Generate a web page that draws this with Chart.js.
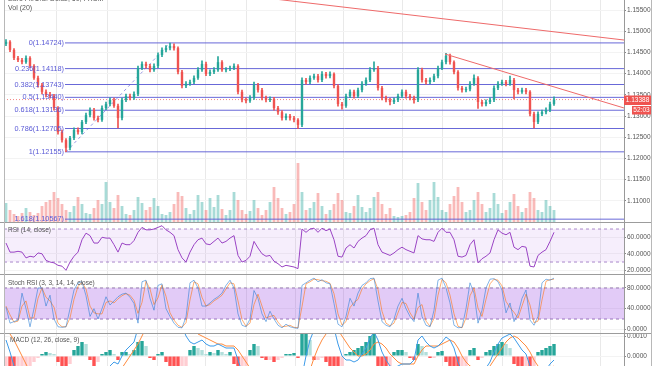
<!DOCTYPE html>
<html><head><meta charset="utf-8">
<script src="https://cdn.jsdelivr.net/npm/chart.js@4.4.1/dist/chart.umd.min.js"></script>
<style>
html,body{margin:0;padding:0;background:#fff;width:654px;height:366px;overflow:hidden;position:relative}
.pane{position:absolute;left:0;width:654px}
.pane canvas{display:block}
.hl{position:absolute;left:0;width:652px;height:1px;background:#9c9c9c}
.vl{position:absolute;top:0;width:1px;height:366px}
.lbl{position:absolute;left:8px;font-family:"Liberation Sans",Arial,sans-serif;font-size:6.5px;line-height:8px;color:#555;white-space:nowrap}
</style></head><body>
<div class="pane" style="top:0;height:222px"><canvas id="cMain" width="654" height="222"></canvas></div>
<div class="pane" style="top:222px;height:52px"><canvas id="cRsi" width="654" height="52"></canvas></div>
<div class="pane" style="top:274px;height:59px"><canvas id="cStoch" width="654" height="59"></canvas></div>
<div class="pane" style="top:333px;height:67px"><canvas id="cMacd" width="654" height="67"></canvas></div>
<div class="hl" style="top:222px"></div>
<div class="hl" style="top:274px"></div>
<div class="hl" style="top:333px"></div>
<div class="vl" style="left:4px;background:#b8b8b8"></div>
<div class="vl" style="left:651px;background:#b8b8b8"></div>
<div class="lbl" style="top:-5px;font-size:7px">Euro Fx/U.S. Dollar, 60, FXCM</div>
<div class="lbl" style="top:4px;font-size:7px">Vol (20)</div>
<div class="lbl" style="top:226px">RSI (14, close)</div>
<div class="lbl" style="top:279px">Stoch RSI (3, 3, 14, 14, close)</div>
<div class="lbl" style="top:336px;left:10px">MACD (12, 26, close, 9)</div>
<script>
// ---------- DATA ----------
const opens=[1.1470,1.1475,1.1456,1.1437,1.1432,1.1427,1.1437,1.1418,1.1390,1.1373,
1.1357,1.1350,1.1347,1.1319,1.1262,1.1243,1.1225,1.1248,1.1267,1.1262,
1.1286,1.1302,1.1314,1.1295,1.1291,1.1319,1.1328,1.1338,1.1324,1.1295,
1.1338,1.1347,1.1343,1.1352,1.1413,1.1423,1.1418,1.1409,1.1418,1.1444,
1.1456,1.1460,1.1465,1.1460,1.1404,1.1371,1.1376,1.1380,1.1390,1.1409,
1.1423,1.1399,1.1404,1.1409,1.1427,1.1409,1.1411,1.1413,1.1418,1.1357,
1.1338,1.1336,1.1343,1.1373,1.1361,1.1343,1.1338,1.1340,1.1319,1.1309,
1.1295,1.1300,1.1295,1.1291,1.1279,1.1385,1.1380,1.1390,1.1394,1.1385,
1.1399,1.1394,1.1399,1.1371,1.1328,1.1324,1.1347,1.1357,1.1347,1.1361,
1.1376,1.1385,1.1409,1.1413,1.1366,1.1343,1.1338,1.1333,1.1338,1.1347,
1.1357,1.1347,1.1343,1.1338,1.1409,1.1385,1.1380,1.1385,1.1394,1.1413,
1.1427,1.1442,1.1427,1.1404,1.1366,1.1361,1.1363,1.1376,1.1390,1.1333,
1.1328,1.1333,1.1338,1.1366,1.1376,1.1380,1.1376,1.1385,1.1361,1.1357,
1.1361,1.1357,1.1305,1.1286,1.1305,1.1309,1.1314,1.1328];
const highs=[1.1480,1.1478,1.1459,1.1441,1.1436,1.1442,1.1440,1.1421,1.1394,1.1377,
1.1362,1.1356,1.1351,1.1322,1.1267,1.1247,1.1252,1.1272,1.1272,1.1290,
1.1307,1.1319,1.1318,1.1300,1.1324,1.1333,1.1343,1.1342,1.1328,1.1342,
1.1352,1.1352,1.1357,1.1418,1.1428,1.1427,1.1422,1.1423,1.1449,1.1461,
1.1466,1.1472,1.1470,1.1463,1.1408,1.1381,1.1385,1.1395,1.1414,1.1430,
1.1427,1.1409,1.1414,1.1440,1.1431,1.1414,1.1418,1.1423,1.1421,1.1361,
1.1343,1.1348,1.1380,1.1377,1.1365,1.1347,1.1345,1.1344,1.1323,1.1313,
1.1305,1.1304,1.1299,1.1294,1.1390,1.1389,1.1395,1.1399,1.1398,1.1405,
1.1403,1.1404,1.1402,1.1374,1.1332,1.1352,1.1362,1.1361,1.1366,1.1381,
1.1390,1.1414,1.1428,1.1417,1.1370,1.1347,1.1342,1.1343,1.1352,1.1362,
1.1361,1.1351,1.1347,1.1414,1.1413,1.1389,1.1390,1.1399,1.1418,1.1432,
1.1448,1.1446,1.1430,1.1407,1.1370,1.1368,1.1381,1.1397,1.1393,1.1337,
1.1338,1.1343,1.1371,1.1381,1.1385,1.1384,1.1394,1.1389,1.1365,1.1366,
1.1365,1.1360,1.1309,1.1310,1.1314,1.1319,1.1333,1.1345];
const lows=[1.1466,1.1452,1.1433,1.1428,1.1423,1.1424,1.1414,1.1386,1.1368,1.1352,
1.1345,1.1342,1.1314,1.1257,1.1238,1.1216,1.1220,1.1244,1.1257,1.1258,
1.1282,1.1298,1.1290,1.1286,1.1287,1.1315,1.1324,1.1320,1.1272,1.1291,
1.1334,1.1338,1.1339,1.1348,1.1409,1.1413,1.1404,1.1405,1.1414,1.1440,
1.1451,1.1456,1.1455,1.1399,1.1366,1.1367,1.1372,1.1376,1.1386,1.1405,
1.1395,1.1395,1.1400,1.1405,1.1405,1.1404,1.1407,1.1409,1.1352,1.1333,
1.1331,1.1332,1.1339,1.1356,1.1338,1.1333,1.1334,1.1314,1.1304,1.1290,
1.1291,1.1290,1.1286,1.1270,1.1275,1.1375,1.1376,1.1386,1.1380,1.1381,
1.1389,1.1390,1.1366,1.1323,1.1316,1.1320,1.1343,1.1342,1.1343,1.1357,
1.1372,1.1381,1.1405,1.1361,1.1338,1.1333,1.1326,1.1329,1.1334,1.1343,
1.1342,1.1338,1.1330,1.1334,1.1380,1.1375,1.1376,1.1381,1.1390,1.1409,
1.1423,1.1422,1.1399,1.1361,1.1356,1.1357,1.1359,1.1372,1.1318,1.1323,
1.1324,1.1329,1.1334,1.1362,1.1372,1.1371,1.1372,1.1340,1.1352,1.1353,
1.1352,1.1300,1.1272,1.1282,1.1301,1.1305,1.1310,1.1325];
const closes=[1.1475,1.1456,1.1437,1.1432,1.1427,1.1437,1.1418,1.1390,1.1373,1.1357,
1.1350,1.1347,1.1319,1.1262,1.1243,1.1225,1.1248,1.1267,1.1262,1.1286,
1.1302,1.1314,1.1295,1.1291,1.1319,1.1328,1.1338,1.1324,1.1295,1.1338,
1.1347,1.1343,1.1352,1.1413,1.1423,1.1418,1.1409,1.1418,1.1444,1.1456,
1.1460,1.1465,1.1460,1.1404,1.1371,1.1376,1.1380,1.1390,1.1409,1.1423,
1.1399,1.1404,1.1409,1.1427,1.1409,1.1411,1.1413,1.1418,1.1357,1.1338,
1.1336,1.1343,1.1373,1.1361,1.1343,1.1338,1.1340,1.1319,1.1309,1.1295,
1.1300,1.1295,1.1291,1.1279,1.1385,1.1380,1.1390,1.1394,1.1385,1.1399,
1.1394,1.1399,1.1371,1.1328,1.1324,1.1347,1.1357,1.1347,1.1361,1.1376,
1.1385,1.1409,1.1413,1.1366,1.1343,1.1338,1.1333,1.1338,1.1347,1.1357,
1.1347,1.1343,1.1338,1.1409,1.1385,1.1380,1.1385,1.1394,1.1413,1.1427,
1.1442,1.1427,1.1404,1.1366,1.1361,1.1363,1.1376,1.1390,1.1333,1.1328,
1.1333,1.1338,1.1366,1.1376,1.1380,1.1376,1.1385,1.1361,1.1357,1.1361,
1.1357,1.1305,1.1286,1.1305,1.1309,1.1314,1.1328,1.13388];
const volumes=[19,12,8,6,9,14,10,7,9,16,
20,22,30,24,18,12,10,16,25,18,
9,8,14,22,18,40,20,14,27,16,
8,7,12,25,19,12,15,24,16,8,
7,10,18,30,26,14,8,12,27,20,
12,24,15,27,13,7,12,30,22,12,
8,11,22,14,7,12,20,35,24,14,
8,10,18,59,30,12,14,20,29,16,
8,12,18,29,22,10,9,16,27,15,
10,14,25,30,18,8,14,6,5,6,
7,10,24,39,20,12,22,40,25,12,
10,18,26,35,20,10,12,22,30,18,
10,14,29,18,9,12,20,28,16,10,
14,30,24,12,10,22,16,12];
const rsi=[53,42,42,43,42,35,37,36,41,40,
32,30,29,26,25,20,30,37,42,57,
65,62,53,53,60,59,59,51,42,53,
51,51,56,66,72,69,69,70,72,74,
69,66,62,45,35,30,42,51,57,59,
52,51,55,59,53,55,59,62,38,30,
32,37,55,47,40,37,38,31,28,24,
26,25,24,22,70,66,70,71,66,71,
68,70,57,37,36,47,51,47,55,59,
62,69,71,51,42,40,38,41,45,48,
45,43,41,62,58,57,57,55,66,71,
66,66,57,37,36,38,51,57,29,34,
37,41,57,69,65,63,66,48,45,49,
48,25,24,38,42,45,55,66];
const stochK=[43,12,15,18,70,40,5,40,80,80,
45,66,20,5,4,5,40,76,90,92,
65,25,40,20,40,63,47,55,63,68,
70,62,50,12,92,95,60,37,85,88,
40,25,12,4,3,24,90,95,80,45,
45,51,58,63,70,85,95,80,30,8,
5,20,75,60,30,15,35,20,8,3,
10,5,3,2,85,90,95,99,92,96,
90,88,50,10,5,25,60,45,70,85,
90,98,99,55,15,8,5,20,45,60,
40,25,15,70,25,8,5,37,95,99,
80,51,8,3,4,40,90,70,12,37,
80,97,98,92,76,32,51,15,30,60,
76,18,8,25,90,97,95,99];
const stochD=[45,28,14,16,45,55,22,22,60,80,
62,55,43,12,5,5,22,58,83,91,
78,45,32,30,30,52,55,51,59,65,
69,66,56,31,52,93,78,48,61,86,
64,32,18,8,4,13,57,92,88,62,
45,48,55,60,66,78,90,88,55,19,
6,12,48,68,45,22,25,27,14,5,
6,8,4,3,44,88,92,97,96,94,
93,89,69,30,8,15,42,52,58,78,
88,94,98,77,35,12,7,12,32,52,
50,32,20,42,48,16,6,21,66,97,
90,66,30,6,3,22,65,80,41,25,
58,88,97,95,84,54,42,33,22,45,
68,47,13,16,57,93,96,97];
// MACD values in units of 0.0001
const macdHist=[-6,-9,-10,-9,-8,-6,-5,-3,-1,1,
2,1.5,1,-3,-6,-8,-4,3,5,7,
6,-2,-5,-3,1,2,3,1,-2,2,
2,1,3,7,7.5,5,-1,-2,1,2,
-3,-6,-8,-10,-10,-7,3,5,4,3,
1,2,1.5,3,2,1,2,-4,-8,-8,
-6,3,6,5,-1,-2,-2,-3,-2,-1,
1,1,1.5,-1,11,13,8,-2,-2,-1,
-3,-6,-7,-8,-5,1,2,3,4,5,
7,10,11,-5,-7,-8,-6,2,3,3,
2,-1,-2,6,5,2,-1,-1,2,2.5,
-3,-6,-9,-10,-9,-6,3,4,-2,-1,
2,3,5,6,7,6,4,-4,-6,-8,
-7,-9,-8,2,3,4,5,6];
const macdLine=[8,2,-5,-10,-14,-17,-20,-25,-29,-32,
-34,-35,-37,-41,-45,-49,-47,-43,-40,-35,
-29,-24,-22,-20,-15,-10,-5,-3,-4,0,
3,5,7,14,19,22,23,24,27,30,
31,31,30,23,15,10,7,6,7,8,
6,5,5,6,5,4,4,4,-2,-8,
-12,-14,-11,-10,-11,-12,-12,-14,-16,-19,
-20,-21,-22,-24,-10,0,8,13,15,17,
17,17,14,6,0,-2,-2,-3,-2,1,
4,9,12,8,2,-2,-5,-6,-5,-4,
-4,-4,-2,8,10,7,5,4,5,7,
9.5,8,4,-3,-8,-10,-9,-7,-9,-9,
-6,-3,2,6,9,10,11,9,6,3,
1,-5,-10,-11,-9,-7,-4,-2];
const macdSignal=[14,11,8,4,0,-4,-8,-12,-16,-20,
-23,-26,-28,-31,-34,-37,-39,-40,-41,-40,
-39,-35,-31,-28,-24,-20,-16,-12,-9,-6,
-3,0,3,6,10,14,17,20,22,25,
27,28,29,28,25,21,17,13,11,10,
9,8,7,6,6,5,5,5,3,0,
-3,-6,-8,-9,-10,-11,-11,-12,-13,-15,
-16,-18,-19,-20,-18,-13,-7,-1,4,8,
11,13,14,13,10,7,4,2,0,0,
1,3,6,7,6,4,1,-1,-3,-4,
-4,-4,-4,0,3,5,5,5,5,6,
7,8,7,4,0,-3,-5,-6,-7,-8,
-7,-5,-2,1,4,7,9,10,9,7,
5,2,-2,-5,-7,-7,-6,-5];
const fibRatios=['0','0.236','0.382','0.5','0.618','0.786','1','1.618'];
const fibPrices=[1.14724,1.14118,1.13743,1.13440,1.13136,1.12705,1.12155,1.10567];
const fibStartIdx=14.75;
const fibSwing=[[15,1.12155],[41,1.14724]];
const trendA=[[40,1.1606],[154.5,1.14792]];
const trendB=[[109.75,1.14462],[154.5,1.13189]];
const priceTicks=[1.110,1.115,1.120,1.125,1.130,1.135,1.140,1.145,1.150,1.155];
const rsiTicks=[20,40,60];
const rsiBand=[70,30];
const stochTicks=[0,40,80];
const stochBand=[80,20];
const macdTicks=[10,0,-10,-20];
const timeTicks=[12.5,25.25,37.75,49.75,60.25,72.25,84.25,99,109,124,136,148.5];
const countdown='52:03';
const lastClose=closes[closes.length-1];

// ---------- SETUP ----------
const FONT='"Liberation Sans", Arial, sans-serif';
Chart.defaults.font.family=FONT;
const X_MIN=-0.5, X_MAX=154.5;
const UP='#26a69a', DN='#ef5350';
const isUp=i=>closes[i]>=opens[i];
const pts=arr=>arr.map(p=>({x:p[0],y:p[1]}));
const flat=v=>[{x:X_MIN,y:v},{x:X_MAX,y:v}];
const series=arr=>arr.map((v,i)=>({x:i,y:v}));

function xAxis(){return {type:'linear',min:X_MIN,max:X_MAX,offset:false,
  afterBuildTicks:s=>{s.ticks=timeTicks.map(v=>({value:v}));},
  afterFit:s=>{s.height=0;s.paddingLeft=0;s.paddingRight=0;},
  ticks:{display:false},grid:{color:'#e9e9e9',drawTicks:false,offset:false},border:{display:false}};}
function yAxis(min,max,ticks,fmt){return {type:'linear',position:'right',min,max,
  afterBuildTicks:s=>{s.ticks=ticks.map(v=>({value:v}));},
  afterFit:s=>{s.width=30;s.paddingTop=0;s.paddingBottom=0;},
  ticks:{callback:fmt,font:{size:6.5,family:FONT},color:'#555',padding:1},
  grid:{color:'#f3f3f3',tickLength:2,tickColor:'#888'},border:{display:true,color:'#999'}};}
function baseOpts(scales){return {responsive:false,animation:false,devicePixelRatio:1,events:[],
  layout:{autoPadding:false,padding:{left:4,right:0,top:0,bottom:0}},
  plugins:{legend:{display:false},tooltip:{enabled:false}},scales};}

// ---------- MAIN PANE ----------
const overlay={id:'overlay',
  afterDatasetsDraw(chart){
    const ctx=chart.ctx,xs=chart.scales.x,ys=chart.scales.y;
    ctx.save();
    ctx.font='7.3px '+FONT;ctx.fillStyle='#5a5ad6';ctx.textAlign='right';ctx.textBaseline='middle';
    fibPrices.forEach((p,k)=>ctx.fillText(fibRatios[k]+'('+p.toFixed(5)+')',xs.getPixelForValue(fibStartIdx)-1,ys.getPixelForValue(p)));
    ctx.restore();
  },
  afterDraw(chart){
    const ctx=chart.ctx,ys=chart.scales.y,ca=chart.chartArea;
    const y=Math.round(ys.getPixelForValue(lastClose));
    ctx.save();
    ctx.fillStyle='#ef5350';
    ctx.fillRect(ca.right,y-4.5,27,9.5);
    ctx.fillRect(ca.right+8,y+6,19,8.5);
    ctx.fillStyle='#fff';ctx.font='6.5px '+FONT;ctx.textBaseline='middle';ctx.textAlign='center';
    ctx.fillText(lastClose.toFixed(5),ca.right+13.5,y+0.5);
    ctx.fillText(countdown,ca.right+17.5,y+10.5);
    ctx.restore();
  }};

const mainDatasets=[
  {type:'bar',label:'Vol',yAxisID:'yVol',data:series(volumes),grouped:false,order:10,
   barPercentage:0.7,categoryPercentage:1,
   backgroundColor:c=>isUp(c.dataIndex)?'rgba(38,166,154,0.4)':'rgba(239,83,80,0.4)'},
  ...fibPrices.map(p=>({type:'line',data:[{x:fibStartIdx,y:p},{x:X_MAX,y:p}],borderColor:'rgba(88,88,212,0.9)',borderWidth:1,pointRadius:0,order:6})),
  {type:'line',data:pts(fibSwing),borderColor:'rgba(88,88,212,0.6)',borderWidth:1,borderDash:[3,3],pointRadius:0,order:5},
  {type:'line',data:flat(lastClose),borderColor:'rgba(239,83,80,0.7)',borderWidth:1,borderDash:[1,2],pointRadius:0,order:5},
  {type:'bar',label:'wick',data:highs.map((h,i)=>({x:i,y:[lows[i],h]})),grouped:false,order:3,barThickness:1,
   backgroundColor:c=>isUp(c.dataIndex)?UP:DN},
  {type:'bar',label:'body',data:opens.map((o,i)=>({x:i,y:[o,closes[i]]})),grouped:false,order:2,
   barPercentage:0.6,categoryPercentage:1,minBarLength:1,
   backgroundColor:c=>isUp(c.dataIndex)?UP:DN},
  {type:'line',data:pts(trendA),borderColor:'#ee6a6a',borderWidth:1,pointRadius:0,order:1},
  {type:'line',data:pts(trendB),borderColor:'#ee6a6a',borderWidth:1,pointRadius:0,order:1}
];
new Chart(document.getElementById('cMain'),{data:{datasets:mainDatasets},
  options:baseOpts({x:xAxis(),
    y:yAxis(1.105,1.15736,priceTicks,v=>v.toFixed(5)),
    yVol:{type:'linear',display:false,min:0,max:222}}),
  plugins:[overlay]});

// ---------- RSI ----------
new Chart(document.getElementById('cRsi'),{data:{datasets:[
  {type:'line',data:flat(rsiBand[0]),borderColor:'rgba(150,110,190,0.8)',borderWidth:1,borderDash:[3,3],pointRadius:0,fill:'+1',backgroundColor:'rgba(150,70,225,0.09)',order:5},
  {type:'line',data:flat(rsiBand[1]),borderColor:'rgba(150,110,190,0.8)',borderWidth:1,borderDash:[3,3],pointRadius:0,order:5},
  {type:'line',data:series(rsi),borderColor:'#9a44c4',borderWidth:1,pointRadius:0,order:1}
]},options:baseOpts({x:xAxis(),y:yAxis(15.5,78.5,rsiTicks,v=>v.toFixed(4))})});

// ---------- STOCH RSI ----------
new Chart(document.getElementById('cStoch'),{data:{datasets:[
  {type:'line',data:flat(stochBand[0]),borderColor:'rgba(140,110,170,0.9)',borderWidth:1,borderDash:[3,3],pointRadius:0,fill:'+1',backgroundColor:'rgba(150,70,225,0.28)',order:5},
  {type:'line',data:flat(stochBand[1]),borderColor:'rgba(140,110,170,0.9)',borderWidth:1,borderDash:[3,3],pointRadius:0,order:5},
  {type:'line',data:series(stochD),borderColor:'rgba(255,109,0,0.55)',borderWidth:1,pointRadius:0,order:2},
  {type:'line',data:series(stochK),borderColor:'rgba(33,120,210,0.55)',borderWidth:1,pointRadius:0,order:1}
]},options:baseOpts({x:xAxis(),y:yAxis(-7,107,stochTicks,v=>v.toFixed(4))})});

// ---------- MACD ----------
new Chart(document.getElementById('cMacd'),{data:{datasets:[
  {type:'bar',data:series(macdHist),order:3,barPercentage:0.85,categoryPercentage:1,
   backgroundColor:c=>{const i=c.dataIndex,v=macdHist[i],p=i>0?macdHist[i-1]:v;
     if(v>=0)return v>=p?'#26a69a':'#b2dfdb';return v<p?'#ff5252':'#ffcdd2';}},
  {type:'line',data:series(macdSignal),borderColor:'#ff8a3d',borderWidth:1,pointRadius:0,order:2},
  {type:'line',data:series(macdLine),borderColor:'#3d9be9',borderWidth:1,pointRadius:0,order:1}
]},options:baseOpts({x:xAxis(),y:yAxis(-22,11.5,macdTicks,v=>(v/10000).toFixed(4))})});
</script>
</body></html>
